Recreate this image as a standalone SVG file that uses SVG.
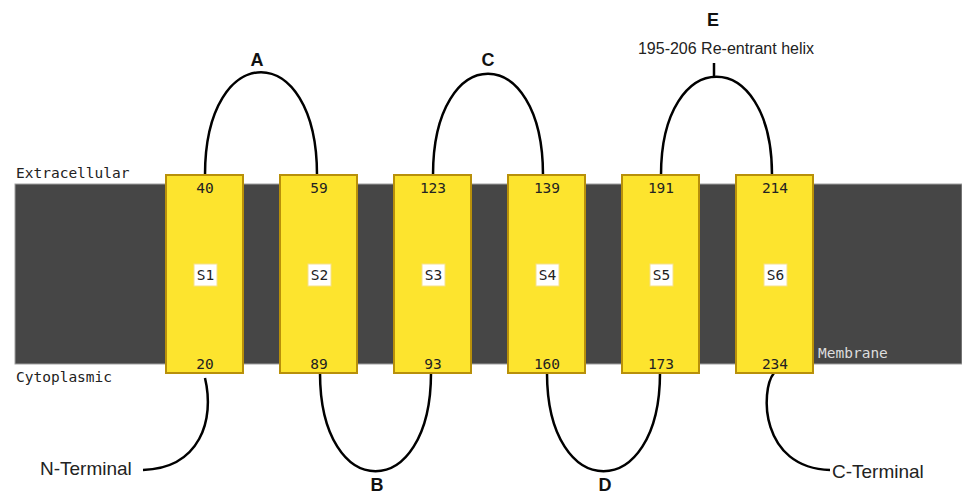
<svg xmlns="http://www.w3.org/2000/svg" width="962" height="495" viewBox="0 0 962 495">
<style>
.mono{font-family:"DejaVu Sans Mono","Liberation Mono",monospace;font-size:14.5px;fill:#222}
.lab{font-family:"Liberation Sans","Open Sans",sans-serif;font-size:18px;font-weight:bold;fill:#111;text-anchor:middle}
.txt{font-family:"Liberation Sans","Open Sans",sans-serif;font-size:19px;fill:#222}
.helix{fill:#FDE42E;stroke:#B8900A;stroke-width:2}
.sbox{fill:#fff;stroke:#F5E08A;stroke-width:1}
.num{text-anchor:middle}
.loop{fill:none;stroke:#000;stroke-width:2.5}
</style>
<rect width="962" height="495" fill="#fff"/>
<g id="membrane">
<rect x="15" y="184" width="947" height="180" fill="#464646" stroke="#a0a0a0" stroke-width="1"/>
<text class="mono" x="16" y="178">Extracellular</text>
<text class="mono" x="16" y="382">Cytoplasmic</text>
<text class="mono" x="818" y="358" style="fill:#ddd">Membrane</text>
</g>
<g id="connectors">
<path class="loop" d="M205,175 C205,38 317,38 317,175"/>
<path class="loop" d="M433,175 C433,40 543,40 543,175"/>
<path class="loop" d="M661,175 C661,44 772,44 772,175"/>
<path class="loop" d="M714,78 L714,63"/>
<path class="loop" d="M320,373 C320,504 431,504 431,373"/>
<path class="loop" d="M547,373 C547,504 660,504 660,373"/>
<path class="loop" d="M205,378 C215,420 200,468 143,470"/>
<path class="loop" d="M774,373 C760,390 760,468 830,470"/>
</g>
<g id="S1"><rect class="helix" x="166" y="175" width="77" height="198"/><text class="mono num" x="205" y="193">40</text><text class="mono num" x="205" y="369">20</text><rect class="sbox" x="194" y="264" width="23" height="22"/><text class="mono num" x="205.5" y="280">S1</text></g>
<g id="S2"><rect class="helix" x="280" y="175" width="77" height="198"/><text class="mono num" x="319" y="193">59</text><text class="mono num" x="319" y="369">89</text><rect class="sbox" x="308" y="264" width="23" height="22"/><text class="mono num" x="319.5" y="280">S2</text></g>
<g id="S3"><rect class="helix" x="394" y="175" width="77" height="198"/><text class="mono num" x="433" y="193">123</text><text class="mono num" x="433" y="369">93</text><rect class="sbox" x="422" y="264" width="23" height="22"/><text class="mono num" x="433.5" y="280">S3</text></g>
<g id="S4"><rect class="helix" x="508" y="175" width="77" height="198"/><text class="mono num" x="547" y="193">139</text><text class="mono num" x="547" y="369">160</text><rect class="sbox" x="536" y="264" width="23" height="22"/><text class="mono num" x="547.5" y="280">S4</text></g>
<g id="S5"><rect class="helix" x="622" y="175" width="77" height="198"/><text class="mono num" x="661" y="193">191</text><text class="mono num" x="661" y="369">173</text><rect class="sbox" x="650" y="264" width="23" height="22"/><text class="mono num" x="661.5" y="280">S5</text></g>
<g id="S6"><rect class="helix" x="736" y="175" width="77" height="198"/><text class="mono num" x="775" y="193">214</text><text class="mono num" x="775" y="369">234</text><rect class="sbox" x="764" y="264" width="23" height="22"/><text class="mono num" x="775.5" y="280">S6</text></g>
<g id="labels">
<text class="lab" x="257" y="66">A</text>
<text class="lab" x="488" y="66">C</text>
<text class="lab" x="713" y="26">E</text>
<text class="txt" x="726" y="54" text-anchor="middle" style="font-size:16px">195-206 Re-entrant helix</text>
<text class="lab" x="377" y="491">B</text>
<text class="lab" x="605" y="491">D</text>
<text class="txt" x="40" y="475">N-Terminal</text>
<text class="txt" x="832" y="478">C-Terminal</text>
</g>
</svg>
